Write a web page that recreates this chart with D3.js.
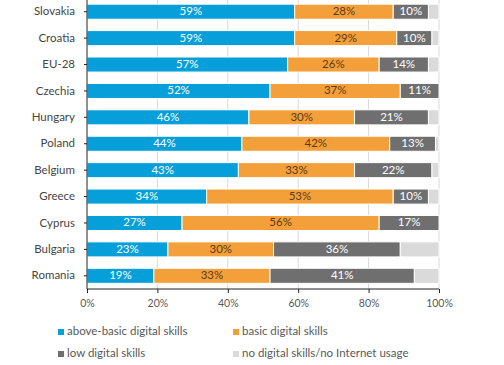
<!DOCTYPE html>
<html><head><meta charset="utf-8">
<script src="https://cdn.jsdelivr.net/npm/d3@7"></script>
<style>body{margin:0;background:#fff}svg{display:block;font-family:Lato,"Open Sans",sans-serif}</style>
</head><body><svg id="c" width="504" height="365"></svg>
<script>
const categories = ["Slovakia","Croatia","EU-28","Czechia","Hungary","Poland","Belgium","Greece","Cyprus","Bulgaria","Romania"];
const aboveBasic = [59,59,57,52,46,44,43,34,27,23,19];
const basic      = [28,29,26,37,30,42,33,53,56,30,33];
const low        = [10,10,14,11,21,13,22,10,17,36,41];
const noSkills   = [3,2,3,0,3,1,2,3,0,11,7];
const seriesNames = ["above-basic digital skills","basic digital skills","low digital skills","no digital skills/no Internet usage"];
const colors = ["#079fd9","#f4a03a","#6f6f6f","#dadada"];
const labelColors = ["#ffffff","#5b3a17","#ffffff",null];
const xTicks = [0,20,40,60,80,100];

const svg = d3.select("#c");
const x = d3.scaleLinear().domain([0,100]).range([87,439]);
const y = d3.scaleBand().domain(categories).range([-1.5,289]).paddingInner(0.43).paddingOuter(0.215);

// gridlines
svg.append("g").selectAll("line").data(xTicks.slice(1)).join("line")
  .attr("x1",d=>x(d)).attr("x2",d=>x(d)).attr("y1",0).attr("y2",289)
  .attr("stroke","#d9d9d9").attr("stroke-width",1);

const table = categories.map((c,i)=>({cat:c, vals:[aboveBasic[i],basic[i],low[i],noSkills[i]]}));
const rows = svg.append("g").selectAll("g").data(table).join("g");
rows.each(function(d){
  let acc=0;
  const g=d3.select(this);
  d.vals.forEach((v,k)=>{
    const x0=x(acc), x1=x(acc+v);
    acc+=v;
    if(v<=0) return;
    g.append("rect").attr("x",x0).attr("y",y(d.cat)).attr("width",x1-x0).attr("height",y.bandwidth())
      .attr("fill",colors[k]).attr("stroke","#fff").attr("stroke-width",1);
    if(labelColors[k]) g.append("text").attr("x",(x0+x1)/2).attr("y",y(d.cat)+y.bandwidth()/2+0.5)
      .attr("text-anchor","middle").attr("dominant-baseline","middle")
      .attr("font-size",11.5).attr("fill",labelColors[k]).text(v+"%");
  });
});

// y axis
const ya = svg.append("g").attr("transform","translate(87,0)").call(d3.axisLeft(y).tickSize(3).tickPadding(9));
ya.select(".domain").attr("d","M0,-2V289").attr("stroke","#222");
ya.selectAll(".tick line").attr("stroke","#222");
ya.selectAll("text").attr("font-size",11.5).attr("fill","#454545").attr("font-family","Lato,sans-serif");

// x axis
const xa = svg.append("g").attr("transform","translate(0,289)").call(d3.axisBottom(x).tickValues(xTicks).tickFormat(d=>d+"%").tickSize(4).tickPadding(7));
xa.select(".domain").attr("d","M87,0H439").attr("stroke","#222");
xa.selectAll(".tick line").attr("stroke","#222");
xa.selectAll("text").attr("font-size",10.5).attr("fill","#595959").attr("font-family","Lato,sans-serif");

// legend
const legPos = [[58,332],[233,332],[58,354],[233,354]];
const leg = svg.append("g").selectAll("g").data(seriesNames).join("g")
  .attr("transform",(d,i)=>`translate(${legPos[i][0]},${legPos[i][1]})`);
leg.append("rect").attr("x",0).attr("y",-3).attr("width",6).attr("height",6).attr("fill",(d,i)=>colors[i]);
leg.append("text").attr("x",9).attr("y",0.5).attr("dominant-baseline","middle").attr("font-size",11.5).attr("fill","#595959").text(d=>d);
</script></body></html>
